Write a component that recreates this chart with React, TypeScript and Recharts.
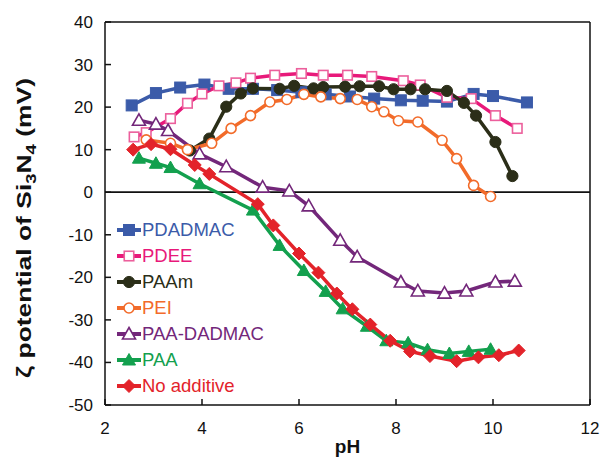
import { LineChart, Line, XAxis, YAxis, ReferenceLine, Legend } from 'recharts';

// pH / zeta potential (mV)
const phPDADMAC = [2.55, 3.05, 3.55, 4.05, 4.55, 5.05, 5.55, 6.05, 6.55, 7.05, 7.55, 8.1, 8.55, 9.05, 9.6, 10.0, 10.7];
const zetaPDADMAC = [20.4, 23.3, 24.6, 25.3, 24.3, 24.3, 24, 23.5, 23, 22.5, 22, 21.6, 21.5, 21.3, 23.1, 22.6, 21.1];

const phPDEE = [2.6, 2.85, 3.35, 3.7, 4.0, 4.35, 4.7, 5.0, 5.5, 6.05, 6.5, 7.0, 7.5, 8.15, 8.5, 9.05, 9.55, 10.05, 10.5];
const zetaPDEE = [13, 14, 17.3, 20.9, 23.1, 25, 25.7, 26.8, 27.5, 27.9, 27.5, 27.5, 27.2, 26.2, 25.2, 22.3, 22, 18, 15];

const phPAAm = [3.75, 4.15, 4.5, 4.8, 5.05, 5.6, 5.9, 6.3, 6.5, 6.95, 7.25, 7.65, 7.95, 8.3, 8.6, 9.05, 9.4, 9.65, 10.05, 10.4];
const zetaPAAm = [9.8, 12.6, 20.1, 23.2, 24.4, 24.3, 25, 24.4, 24.7, 24.8, 24.9, 24.9, 24.2, 24.2, 24.2, 23.8, 21, 18, 11.8, 3.8];

const phPEI = [2.85, 3.35, 3.7, 4.2, 4.6, 5.0, 5.4, 5.75, 6.1, 6.45, 6.85, 7.2, 7.5, 7.75, 8.05, 8.45, 8.95, 9.25, 9.6, 9.95];
const zetaPEI = [12.3, 11.5, 10, 11.5, 15, 18, 21.2, 21.8, 23, 22.4, 22, 21.8, 20.1, 18.9, 16.8, 16.5, 12.2, 7.9, 1.6, -1];

const phPAADADMAC = [2.7, 3.05, 3.3, 3.95, 4.5, 5.25, 5.8, 6.2, 6.85, 7.2, 8.1, 8.45, 9.0, 9.45, 10.05, 10.45];
const zetaPAADADMAC = [16.9, 16, 14.5, 9, 6, 1.2, 0.3, -3.2, -11.3, -15.2, -21.1, -23.2, -23.7, -23.2, -21.1, -20.9];

const phPAA = [2.7, 3.05, 3.35, 3.95, 5.05, 5.6, 6.1, 6.55, 6.9, 7.4, 7.8, 8.25, 8.65, 9.1, 9.5, 9.95];
const zetaPAA = [8, 6.8, 5.8, 2, -4.2, -12.5, -18.4, -23.3, -27.4, -31.5, -34.9, -35.4, -37, -37.9, -37.4, -36.9];

const phNone = [2.58, 2.95, 3.35, 3.85, 4.15, 5.15, 5.47, 6.0, 6.4, 6.78, 7.1, 7.47, 7.88, 8.29, 8.7, 9.25, 9.7, 10.12, 10.53];
const zetaNone = [10, 11.3, 10.1, 6.4, 4.3, -2.8, -7.8, -14.4, -18.9, -23.8, -27.5, -31.1, -34.9, -37.4, -38.5, -39.7, -38.8, -38.3, -37.2];

const xTicks = [2, 4, 6, 8, 10, 12];
const yTicks = [-50, -40, -30, -20, -10, 0, 10, 20, 30, 40];

const zip = (ph: number[], z: number[]) => ph.map((p, i) => ({ ph: p, zeta: z[i] }));

type Shape = 'square' | 'circle' | 'triangle' | 'diamond';

const series = [
  { name: 'PDADMAC', data: zip(phPDADMAC, zetaPDADMAC), color: '#3b5ba9', mark: '#3b5ba9', text: '#3b5ba9', shape: 'square' as Shape, open: false },
  { name: 'PDEE', data: zip(phPDEE, zetaPDEE), color: '#e8197a', mark: '#ec5f9c', text: '#e8197a', shape: 'square' as Shape, open: true },
  { name: 'PAAm', data: zip(phPAAm, zetaPAAm), color: '#2b2e18', mark: '#2b2e18', text: '#2b2e18', shape: 'circle' as Shape, open: false },
  { name: 'PEI', data: zip(phPEI, zetaPEI), color: '#f26b2a', mark: '#f26b2a', text: '#f26b2a', shape: 'circle' as Shape, open: true },
  { name: 'PAA-DADMAC', data: zip(phPAADADMAC, zetaPAADADMAC), color: '#73277a', mark: '#73277a', text: '#73277a', shape: 'triangle' as Shape, open: true },
  { name: 'PAA', data: zip(phPAA, zetaPAA), color: '#13a04e', mark: '#13a04e', text: '#13a04e', shape: 'triangle' as Shape, open: false },
  { name: 'No additive', data: zip(phNone, zetaNone), color: '#e3232a', mark: '#e3232a', text: '#e3232a', shape: 'diamond' as Shape, open: false },
];

const font = 'Arial, "Liberation Sans", sans-serif';

function Marker({ cx, cy, shape, stroke, open }: { cx: number; cy: number; shape: Shape; stroke: string; open: boolean }) {
  const fill = open ? '#ffffff' : stroke;
  const sw = open ? 1.6 : 1;
  if (shape === 'square') {
    const s = open ? 9.5 : 11;
    return <rect x={cx - s / 2} y={cy - s / 2} width={s} height={s} fill={fill} stroke={stroke} strokeWidth={sw} />;
  }
  if (shape === 'circle') return <circle cx={cx} cy={cy} r={open ? 5 : 5.6} fill={fill} stroke={stroke} strokeWidth={sw} />;
  if (shape === 'triangle') {
    return <polygon points={`${cx},${cy - 6.5} ${cx + 6.5},${cy + 5} ${cx - 6.5},${cy + 5}`} fill={fill} stroke={stroke} strokeWidth={sw} />;
  }
  return <polygon points={`${cx},${cy - 6.5} ${cx + 6.5},${cy} ${cx},${cy + 6.5} ${cx - 6.5},${cy}`} fill={fill} stroke={stroke} strokeWidth={sw} />;
}

const makeDot = (shape: Shape, stroke: string, open: boolean) => (p: any) => (
  <Marker key={`${p.cx}-${p.cy}`} cx={p.cx} cy={p.cy} shape={shape} stroke={stroke} open={open} />
);

function LegendBox() {
  return (
    <div style={{ fontFamily: font, fontSize: 18.5, whiteSpace: 'nowrap' }}>
      {series.map((s) => (
        <div key={s.name} style={{ height: 26, display: 'flex', alignItems: 'center', color: s.text }}>
          <svg width={24} height={16} style={{ marginRight: 1 }}>
            <line x1={0} y1={8} x2={24} y2={8} stroke={s.color} strokeWidth={4} />
            <Marker cx={12} cy={8} shape={s.shape} stroke={s.mark} open={s.open} />
          </svg>
          <span>{s.name}</span>
        </div>
      ))}
    </div>
  );
}

function YTitle() {
  return (
    <text x={0} y={0} transform="translate(31,228) rotate(-90)" textAnchor="middle" fontSize={20} fontWeight="bold" fill="#111" fontFamily={font} textLength={300} lengthAdjust="spacingAndGlyphs">
      ζ potential of Si<tspan fontSize={14} dy={5}>3</tspan><tspan dy={-5}>N</tspan><tspan fontSize={14} dy={5}>4</tspan><tspan dy={-5}> (mV)</tspan>
    </text>
  );
}

export default function App() {
  const tick = { fill: '#111', fontSize: 17, fontFamily: font };
  return (
    <div style={{ position: 'absolute', left: 0, top: 0, background: '#fff' }}>
      <LineChart width={601} height={461} margin={{ top: 22, right: 11, left: 45, bottom: 21 }}>
        <XAxis
          dataKey="ph"
          type="number"
          domain={[2, 12]}
          ticks={xTicks}
          allowDataOverflow
          stroke="#111"
          strokeWidth={1.5}
          tickSize={-6}
          tickMargin={23}
          tick={tick}
          height={35}
          label={{ value: 'pH', position: 'insideBottom', offset: -13, fill: '#111', fontSize: 19, fontWeight: 'bold', fontFamily: font }}
        />
        <YAxis
          type="number"
          domain={[-50, 40]}
          ticks={yTicks}
          allowDataOverflow
          stroke="#111"
          strokeWidth={1.5}
          tickSize={-6}
          tickMargin={18}
          tick={tick}
          width={60}
          label={{ content: () => <YTitle /> }}
        />
        <ReferenceLine y={40} stroke="#111" strokeWidth={1.5} />
        <ReferenceLine x={12} stroke="#111" strokeWidth={1.5} />
        <ReferenceLine y={0} stroke="#111" strokeWidth={1.8} />
        {series.map((s) => (
          <Line
            key={s.name}
            data={s.data}
            dataKey="zeta"
            name={s.name}
            type="linear"
            stroke={s.color}
            strokeWidth={3.5}
            dot={makeDot(s.shape, s.mark, s.open)}
            activeDot={false}
            isAnimationActive={false}
          />
        ))}
        <Legend
          layout="vertical"
          align="center"
          verticalAlign="middle"
          content={() => <LegendBox />}
          wrapperStyle={{ left: 117, top: 217, width: 200, height: 182 }}
        />
      </LineChart>
    </div>
  );
}
